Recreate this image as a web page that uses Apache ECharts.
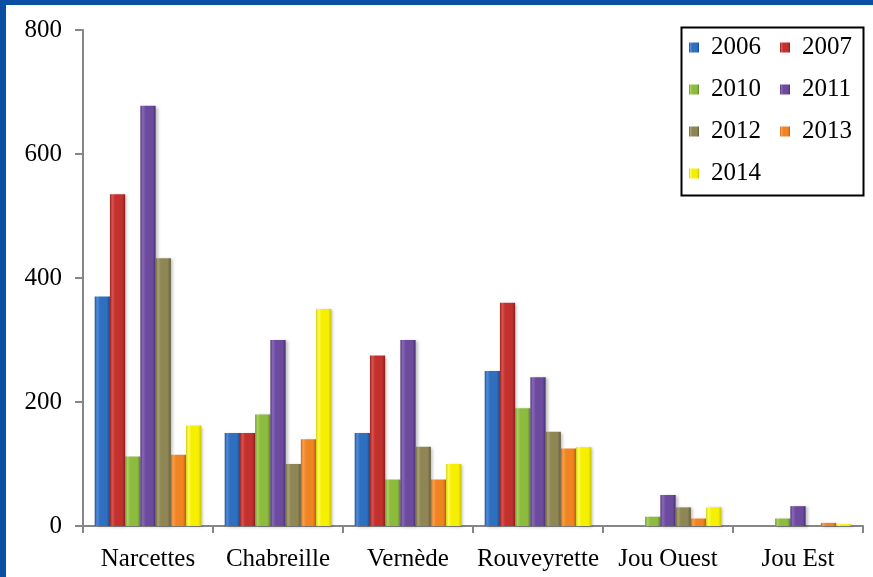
<!DOCTYPE html>
<html>
<head>
<meta charset="utf-8">
<script src="https://cdn.jsdelivr.net/npm/echarts@6/dist/echarts.min.js"></script>
<style>
  html, body { margin: 0; padding: 0; background: #fff; }
  #chart { width: 873px; height: 577px; }
</style>
</head>
<body>
<div id="chart"></div>
<script>
// Sites (categories on the x axis)
const sites = ['Narcettes', 'Chabreille', 'Vernède', 'Rouveyrette', 'Jou Ouest', 'Jou Est'];

// Survey years (one series each)
const years = ['2006', '2007', '2010', '2011', '2012', '2013', '2014'];

// Counts per site, one array per year
const v2006 = [370, 150, 150, 250, 0, 0];
const v2007 = [535, 150, 275, 360, 0, 0];
const v2010 = [112, 180, 75, 190, 15, 12];
const v2011 = [678, 300, 300, 240, 50, 32];
const v2012 = [432, 100, 128, 152, 30, 0];
const v2013 = [115, 140, 75, 125, 12, 5];
const v2014 = [162, 350, 100, 127, 30, 3];

// y axis ticks
const yTicks = [0, 200, 400, 600, 800];

const values = [v2006, v2007, v2010, v2011, v2012, v2013, v2014];

// [left edge, body, highlight, right edge] per year
const palettes = [
  ['#1d4f95', '#2f6fc0', '#4f8ddb', '#1a4682'],
  ['#962220', '#c3312e', '#d9534f', '#86201d'],
  ['#6e9530', '#8dbb3e', '#a7cf5d', '#62852a'],
  ['#4f3478', '#6c4b9f', '#8868b8', '#46306b'],
  ['#6c6540', '#8f8656', '#a8a06f', '#605a38'],
  ['#c9661a', '#f08322', '#f8a04a', '#b85d16'],
  ['#d7d200', '#f6f000', '#fdfa52', '#c8c400']
];

const FONT = "'Liberation Serif', 'Times New Roman', serif";

function barFill(p) {
  return {
    type: 'linear', x: 0, y: 0, x2: 1, y2: 0,
    colorStops: [
      { offset: 0, color: p[0] },
      { offset: 0.15, color: p[2] },
      { offset: 0.35, color: p[1] },
      { offset: 0.8, color: p[1] },
      { offset: 1, color: p[3] }
    ]
  };
}

const series = years.map((y, i) => ({
  name: y,
  type: 'bar',
  data: values[i],
  barGap: '0%',
  barCategoryGap: '18%',
  itemStyle: {
    color: barFill(palettes[i]),
    shadowColor: 'rgba(0,0,0,0.25)',
    shadowBlur: 3,
    shadowOffsetX: 2,
    shadowOffsetY: 1
  },
  emphasis: { disabled: true }
}));

// Two-column legend, one component per entry
const legends = years.map((y, i) => ({
  data: [{ name: y, icon: 'rect', itemStyle: { color: barFill(palettes[i]) } }],
  left: 689 + (i % 2) * 91,
  top: 47 + Math.floor(i / 2) * 42 - 12,
  padding: 0,
  itemWidth: 10,
  itemHeight: 10,
  textStyle: { fontFamily: FONT, fontSize: 25, color: '#000', padding: [0, 0, 0, 7] }
}));

const chart = echarts.init(document.getElementById('chart'), null, { renderer: 'canvas' });
chart.setOption({
  animation: false,
  backgroundColor: '#ffffff',
  grid: { left: 83, right: 10, top: 30, bottom: 51 },
  legend: legends,
  xAxis: {
    type: 'category',
    data: sites,
    axisLine: { lineStyle: { color: '#868686', width: 2 } },
    axisTick: { show: true, length: 7, lineStyle: { color: '#868686', width: 2 } },
    axisLabel: { interval: 0, fontFamily: FONT, fontSize: 25, color: '#000', margin: 21 }
  },
  yAxis: {
    type: 'value',
    min: yTicks[0],
    max: yTicks[yTicks.length - 1],
    interval: yTicks[1] - yTicks[0],
    splitLine: { show: false },
    axisLine: { show: true, lineStyle: { color: '#868686', width: 2 } },
    axisTick: { show: true, length: 8, lineStyle: { color: '#868686', width: 2 } },
    axisLabel: { fontFamily: FONT, fontSize: 25, color: '#000', margin: 21 }
  },
  graphic: [
    { type: 'rect', left: 0, top: 0, shape: { width: 873, height: 5 }, style: { fill: '#0a4fa3' }, z: 10 },
    { type: 'rect', left: 0, top: 0, shape: { width: 6, height: 577 }, style: { fill: '#0a4fa3' }, z: 10 },
    { type: 'rect', left: 679, top: 25, shape: { width: 182, height: 168 }, style: { fill: 'none', stroke: '#000', lineWidth: 2 }, z: 1 }
  ],
  series: series
});
</script>
</body>
</html>
